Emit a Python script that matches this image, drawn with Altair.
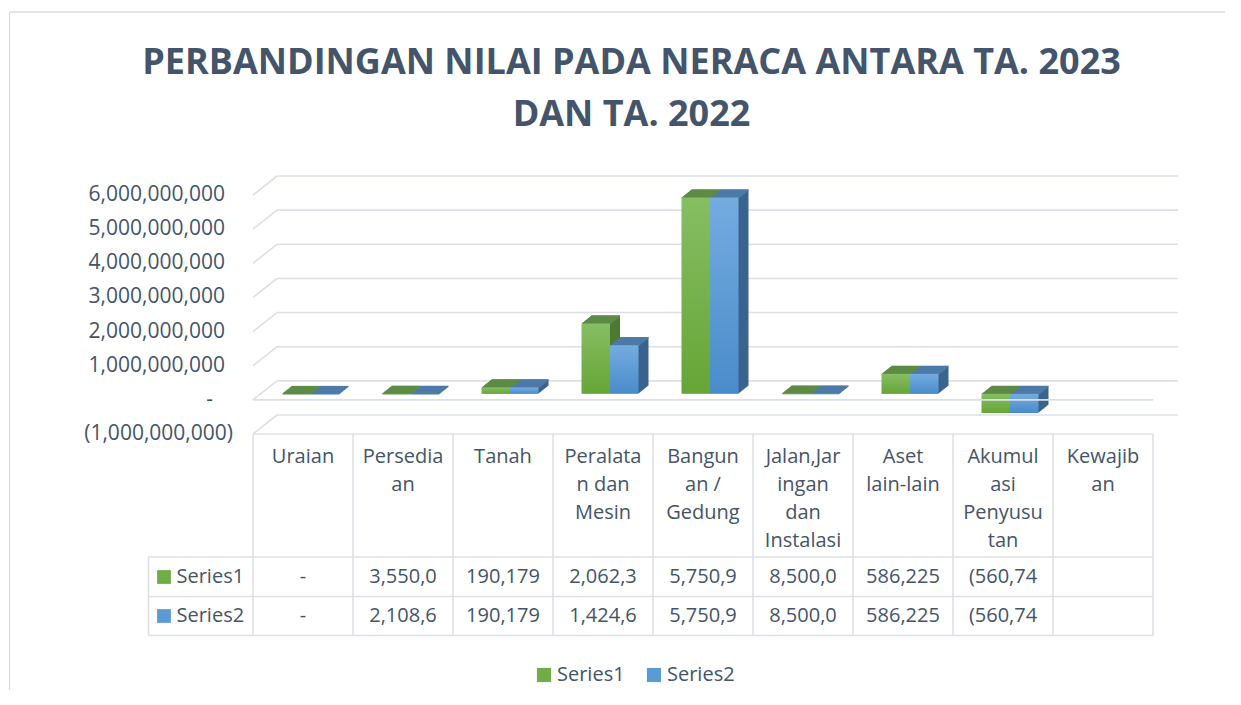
import altair as alt
import pandas as pd

# ---------------- data ----------------
categories = ["Uraian", "Persediaan", "Tanah", "Peralatan dan Mesin", "Bangunan / Gedung",
              "Jalan,Jaringan dan Instalasi", "Aset lain-lain", "Akumulasi Penyusutan", "Kewajiban"]
header_labels = ["Uraian", "Persedia\nan", "Tanah", "Peralata\nn dan\nMesin", "Bangun\nan /\nGedung",
                 "Jalan,Jar\ningan\ndan\nInstalasi", "Aset\nlain-lain", "Akumul\nasi\nPenyusu\ntan", "Kewajib\nan"]
series_names = ["Series1", "Series2"]
series1_values = [0, 3550000, 190179000, 2062300000, 5750900000, 8500000, 586225000, -560740000, None]
series2_values = [0, 2108600, 190179000, 1424600000, 5750900000, 8500000, 586225000, -560740000, None]
series1_cells = ["-", "3,550,0", "190,179", "2,062,3", "5,750,9", "8,500,0", "586,225", "(560,74", ""]
series2_cells = ["-", "2,108,6", "190,179", "1,424,6", "5,750,9", "8,500,0", "586,225", "(560,74", ""]
y_ticks = [-1000000000, 0, 1000000000, 2000000000, 3000000000, 4000000000, 5000000000, 6000000000]
title_lines = ["PERBANDINGAN NILAI PADA NERACA ANTARA TA. 2023", "DAN TA. 2022"]

# ---------------- tables ----------------
rows = []
for s, vals in zip(series_names, [series1_values, series2_values]):
    for c, v in zip(categories, vals):
        if v is not None:
            rows.append({"category": c, "series": s, "value": v, "top": max(v, 0)})
bars = pd.DataFrame(rows)

cells = pd.DataFrame(
    [{"category": c, "series": "Series1", "label": t} for c, t in zip(categories, series1_cells)]
    + [{"category": c, "series": "Series2", "label": t} for c, t in zip(categories, series2_cells)]
)
headers = pd.DataFrame({"category": categories, "label": header_labels})


def tick_label(v):
    if v == 0:
        return "-"
    if v < 0:
        return "(" + format(-v, ",") + ")"
    return format(v, ",")


ticks = pd.DataFrame({"v": y_ticks, "label": [tick_label(v) for v in y_ticks]})
one = pd.DataFrame({"k": [0]})
series_df = pd.DataFrame({"series": series_names})

# ---------------- style ----------------
W, H = 900, 239
FONT = "Open Sans"
TXT = "#44546A"
GRID = "#DCE0E6"
GREEN, BLUE = "#70AD47", "#5B9BD5"
SIDE = {"Series1": "#4E7A34", "Series2": "#3A648F"}
TOP = {"Series1": "#5E8B45", "Series2": "#4E7AA7"}
FRONT = {"Series1": ("#86BE63", "#66A536"), "Series2": ("#74ACE0", "#4A8BCA")}
BAND = {"Series1": (0.215, 0.5), "Series2": (0.5, 0.785)}
BX, BY = 7, -6          # bar row depth shift
DX, DY = 10, -8         # bar depth
WX, WY = 24, -19        # wall depth
N = 12

xs = alt.Scale(domain=categories, paddingInner=0, paddingOuter=0)
ys = alt.Scale(domain=[-1000000000, 6000000000], nice=False, zero=False)
X = alt.X("category:N", scale=xs, axis=None, sort=categories)


def Y(field):
    return alt.Y(field, type="quantitative", scale=ys, axis=None)


def XB(s):
    b0, b1 = BAND[s]
    return dict(x=alt.X("category:N", scale=xs, axis=None, sort=categories, bandPosition=b0),
                x2=alt.X2("category", bandPosition=b1))


layers = []

# chart border
layers.append(alt.Chart(one).mark_rule(color="#D9DDE3", strokeWidth=1.3).encode(
    x=alt.value(-243.5), y=alt.value(-183), y2=alt.value(495)))
layers.append(alt.Chart(one).mark_rule(color="#D9DDE3", strokeWidth=1.3).encode(
    x=alt.value(-243.5), x2=alt.value(972), y=alt.value(-183)))

# back wall gridlines and left wall slants
layers.append(alt.Chart(ticks).mark_rule(color=GRID, strokeWidth=1.6, xOffset=WX, yOffset=WY, y2Offset=WY, x2Offset=WX + 1).encode(
    y=Y("v"), x=alt.value(0), x2=alt.value("width")))
layers.append(alt.Chart(ticks).mark_rule(color=GRID, strokeWidth=1.6, y2Offset=WY).encode(
    y=Y("v"), y2=alt.Y2("v"), x=alt.value(0), x2=alt.value(WX)))

# y-axis labels on the front plane
for cond, dx in [(alt.datum.v > 0, 0), (alt.datum.v == 0, -12), (alt.datum.v < 0, 8)]:
    layers.append(alt.Chart(ticks).transform_filter(cond).mark_text(
        font=FONT, fontSize=21, color=TXT, align="right", baseline="middle", dx=dx).encode(
        x=alt.value(-28), y=Y("v"), text="label:N"))

# bar extrusion (side faces)
for k in range(N, 0, -1):
    ox = BX + DX * k / N
    oy = BY + DY * k / N
    for s in series_names:
        layers.append(alt.Chart(bars).transform_filter(alt.datum.series == s).mark_bar(
            color=SIDE[s], xOffset=ox, x2Offset=ox, yOffset=oy, y2Offset=oy).encode(
            y=Y("value"), y2=alt.Y2Datum(0), **XB(s)))
# top faces
for k in range(1, N + 1):
    ox = BX + DX * k / N
    oy = BY + DY * k / N
    for s in series_names:
        layers.append(alt.Chart(bars).transform_filter(alt.datum.series == s).mark_bar(
            color=TOP[s], xOffset=ox, x2Offset=ox, yOffset=oy, y2Offset=oy + 1.4).encode(
            y=Y("top"), y2=alt.Y2("top"), **XB(s)))
# front faces with gradient
for s in series_names:
    c0, c1 = FRONT[s]
    grad = alt.LinearGradient(gradient="linear", x1=0, y1=0, x2=0, y2=1,
                              stops=[alt.GradientStop(color=c0, offset=0), alt.GradientStop(color=c1, offset=1)])
    layers.append(alt.Chart(bars).transform_filter(alt.datum.series == s).mark_bar(
        color=grad, xOffset=BX, x2Offset=BX, yOffset=BY, y2Offset=BY).encode(
        y=Y("value"), y2=alt.Y2Datum(0), **XB(s)))

# front floor edges (zero line and table top)
layers.append(alt.Chart(ticks).transform_filter(alt.datum.v <= 0).mark_rule(color=GRID, strokeWidth=1.6).encode(
    y=Y("v"), x=alt.value(0), x2=alt.value("width")))

# ---------------- data table ----------------
T_TOP, T_HEAD, T_MID, T_BOT = 239, 362, 401.5, 440.5
LEG_L = -104.5
layers.append(alt.Chart(headers).mark_rule(color=GRID, strokeWidth=1.6).encode(
    x=alt.X("category:N", scale=xs, axis=None, sort=categories, bandPosition=0),
    y=alt.value(T_TOP), y2=alt.value(T_BOT)))
layers.append(alt.Chart(one).mark_rule(color=GRID, strokeWidth=1.6).encode(
    x=alt.value("width"), y=alt.value(T_TOP), y2=alt.value(T_BOT)))
layers.append(alt.Chart(one).mark_rule(color=GRID, strokeWidth=1.6).encode(
    x=alt.value(LEG_L), y=alt.value(T_HEAD), y2=alt.value(T_BOT)))
for yy in [T_HEAD, T_MID, T_BOT]:
    layers.append(alt.Chart(one).mark_rule(color=GRID, strokeWidth=1.6).encode(
        x=alt.value(LEG_L), x2=alt.value("width"), y=alt.value(yy)))

layers.append(alt.Chart(headers).mark_text(
    font=FONT, fontSize=20, color=TXT, lineBreak="\n", lineHeight=28, baseline="alphabetic", align="center").encode(
    x=X, y=alt.value(268), text="label:N"))
for s, yy in [("Series1", 382), ("Series2", 421)]:
    layers.append(alt.Chart(cells).transform_filter(alt.datum.series == s).mark_text(
        font=FONT, fontSize=20, color=TXT, baseline="middle", align="center").encode(
        x=X, y=alt.value(yy), text="label:N"))

color_enc = alt.Color("series:N", scale=alt.Scale(domain=series_names, range=[GREEN, BLUE]), legend=None)
for s, yy in [("Series1", 382), ("Series2", 421)]:
    sd = series_df[series_df.series == s]
    layers.append(alt.Chart(sd).mark_point(shape="square", filled=True, size=190, opacity=1).encode(
        x=alt.value(LEG_L + 15.5), y=alt.value(yy), color=color_enc))
    layers.append(alt.Chart(sd).mark_text(font=FONT, fontSize=20, color=TXT, align="left", baseline="middle").encode(
        x=alt.value(LEG_L + 28), y=alt.value(yy), text="series:N"))

# bottom legend
for s, xx in [("Series1", 291), ("Series2", 401)]:
    sd = series_df[series_df.series == s]
    layers.append(alt.Chart(sd).mark_point(shape="square", filled=True, size=200, opacity=1).encode(
        x=alt.value(xx), y=alt.value(480), color=color_enc))
    layers.append(alt.Chart(sd).mark_text(font=FONT, fontSize=20, color=TXT, align="left", baseline="middle").encode(
        x=alt.value(xx + 13), y=alt.value(480), text="series:N"))

# title
layers.append(alt.Chart(one).mark_text(
    font=FONT, fontSize=36, fontWeight="bold", color=TXT, align="center", baseline="alphabetic", lineHeight=52).encode(
    x=alt.value(378.5), y=alt.value(-121), text=alt.value(title_lines)))

chart = alt.layer(*layers).properties(
    width=W, height=H,
    autosize=alt.AutoSizeParams(type="pad"),
    padding={"left": 0, "top": 3, "right": 0, "bottom": 0},
    background="white",
).configure_view(stroke=None)

chart.save("out.html", embed_options={"renderer": "svg", "actions": False})
